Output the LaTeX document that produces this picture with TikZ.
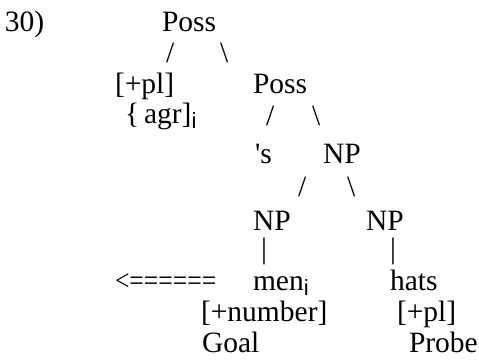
\documentclass[tikz,border=0pt]{standalone}
\usepackage{fontspec}
\setmainfont{Liberation Serif}
\newfontfamily\subfont{Liberation Sans}
\newcommand{\subi}{\raisebox{-0.18em}{\subfont\fontsize{22}{24}\selectfont i}}
\begin{document}
\begin{tikzpicture}[x=1pt,y=-1pt,
  lbl/.style={anchor=base west,inner sep=0pt,outer sep=0pt,font=\fontsize{29.5}{34}\selectfont}]
\useasboundingbox (0,0) rectangle (479,362);
\node[lbl] (num) at (5,31) {30)};
\node[lbl] (poss1) at (162,31) {Poss};
\node[lbl] (s1l) at (166,62) {/};
\node[lbl] (s1r) at (220,62) {\textbackslash};
\node[lbl] (pl1) at (115,93) {[+pl]};
\node[lbl] (poss2) at (253,93) {Poss};
\node[lbl] (agr) at (125,123) {\{\,agr]\subi};
\node[lbl] (s2l) at (266,125) {/};
\node[lbl] (s2r) at (312,125) {\textbackslash};
\node[lbl] (poss) at (255,163) {\textquotesingle s};
\node[lbl] (np1) at (323,163) {NP};
\node[lbl] (s3l) at (298,196) {/};
\node[lbl] (s3r) at (347,196) {\textbackslash};
\node[lbl] (np2) at (253,230) {NP};
\node[lbl] (np3) at (366,230) {NP};
\node[lbl] (p1) at (261,258) {|};
\node[lbl] (p2) at (390,258) {|};
\node[lbl] (arr) at (115,290) {\scalebox{0.87}[1]{<======}};
\node[lbl] (men) at (253,290) {men\subi};
\node[lbl] (hats) at (390,290) {hats};
\node[lbl] (fnum) at (201,321) {[+number]};
\node[lbl] (fpl) at (397,321) {[+pl]};
\node[lbl] (goal) at (202,352) {Goal};
\node[lbl] (probe) at (409,352) {Probe};
\end{tikzpicture}
\end{document}
